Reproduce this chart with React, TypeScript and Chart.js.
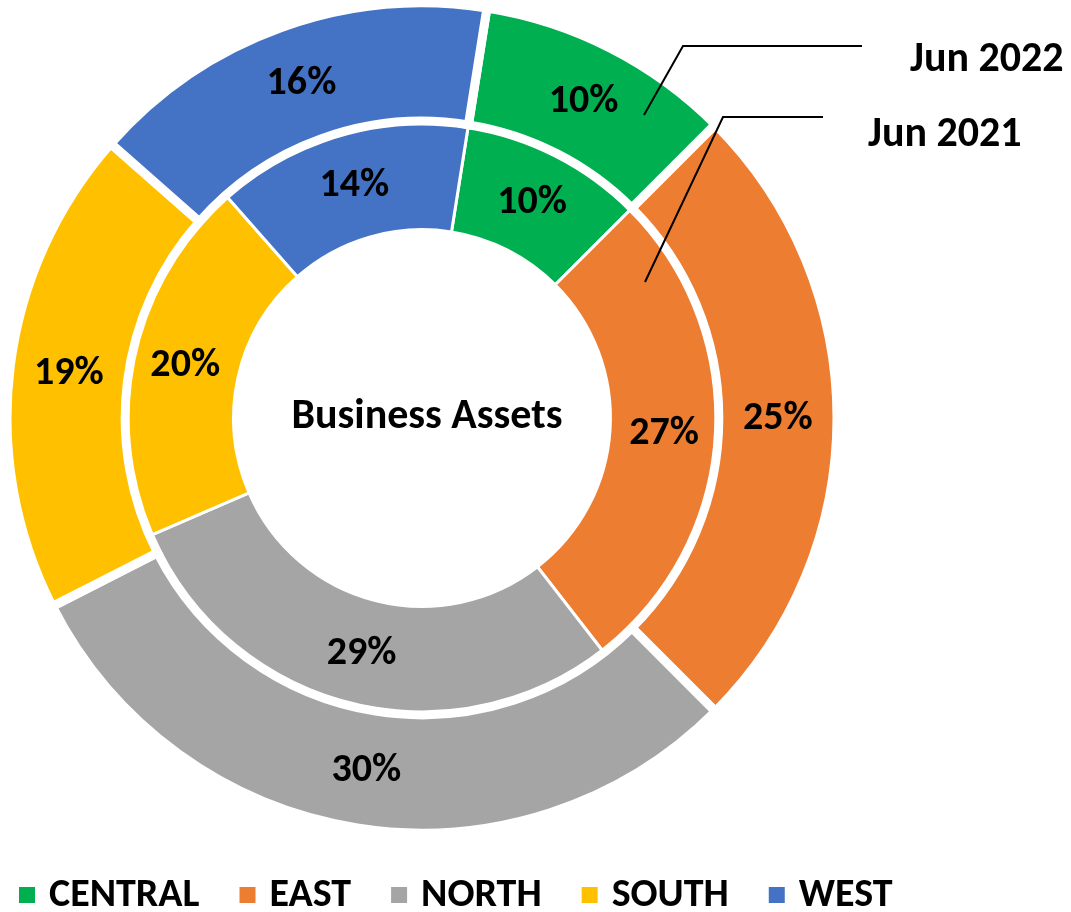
import React, { useEffect, useRef } from "react";
import { Chart, registerables } from "chart.js";

Chart.register(...registerables);

const regions = ["CENTRAL", "EAST", "NORTH", "SOUTH", "WEST"];
const colors = ["#00B050", "#ED7D31", "#A5A5A5", "#FFC000", "#4472C4"];
const periods = ["Jun 2022", "Jun 2021"];
const jun2022 = [10, 25, 30, 19, 16];
const jun2021 = [10, 27, 29, 20, 14];
const centerTitle = "Business Assets";

const FONT = "Carlito, Calibri, 'Open Sans', sans-serif";
const W = 1071;
const H = 912;

const overlayPlugin = {
  id: "overlay",
  afterDatasetsDraw(chart: any) {
    const ctx = chart.ctx as CanvasRenderingContext2D;
    const meta0 = chart.getDatasetMeta(0);
    const cx = meta0.data[0].x;
    const cy = meta0.data[0].y;
    ctx.save();
    ctx.fillStyle = "#000";
    ctx.textAlign = "center";
    ctx.textBaseline = "middle";
    ctx.font = `bold 40px ${FONT}`;
    chart.data.datasets.forEach((ds: any, di: number) => {
      const meta = chart.getDatasetMeta(di);
      const total = ds.data.reduce((a: number, b: number) => a + b, 0);
      meta.data.forEach((arc: any, i: number) => {
        const p = arc.getCenterPoint();
        ctx.fillText(Math.round((ds.data[i] / total) * 100) + "%", p.x, p.y + 1);
      });
    });
    // centre title
    ctx.font = `bold 42px ${FONT}`;
    ctx.fillText(centerTitle, cx + 5, cy - 1);

    // series name call-outs
    const callouts = [
      { s: [222, -303], c: [261, -372], e: [440, -372], t: [488, -347] },
      { s: [223, -136], c: [301, -301], e: [401, -301], t: [446, -272] },
    ];
    ctx.strokeStyle = "#000";
    ctx.lineWidth = 2;
    ctx.textAlign = "left";
    ctx.textBaseline = "alphabetic";
    callouts.forEach((co, i) => {
      ctx.beginPath();
      ctx.moveTo(cx + co.s[0], cy + co.s[1]);
      ctx.lineTo(cx + co.c[0], cy + co.c[1]);
      ctx.lineTo(cx + co.e[0], cy + co.e[1]);
      ctx.stroke();
      ctx.fillText(periods[i], cx + co.t[0], cy + co.t[1]);
    });

    // legend
    ctx.font = `bold 40px ${FONT}`;
    let x = 19;
    const boxY = 887;
    regions.forEach((r, i) => {
      ctx.fillStyle = colors[i];
      ctx.fillRect(x, boxY, 16, 16);
      ctx.fillStyle = "#000";
      ctx.fillText(r, x + 30, 906);
      x += 30 + ctx.measureText(r).width + 40;
    });
    ctx.restore();
  },
};

export default function App() {
  const ref = useRef<HTMLCanvasElement>(null);
  useEffect(() => {
    if (!ref.current) return;
    const chart = new Chart(ref.current, {
      type: "doughnut",
      data: {
        labels: regions,
        datasets: [
          {
            label: periods[0],
            data: jun2022,
            backgroundColor: colors,
            borderColor: "#ffffff",
            borderWidth: 9,
            borderJoinStyle: "miter",
            weight: 1.09,
          } as any,
          {
            label: periods[1],
            data: jun2021,
            backgroundColor: colors,
            borderColor: "#ffffff",
            borderWidth: 3,
            borderJoinStyle: "miter",
            weight: 1,
          } as any,
        ],
      },
      options: {
        responsive: false,
        animation: false,
        rotation: 9,
        cutout: "45.4%",
        radius: 415,
        layout: { padding: { left: 0, right: 227, top: 0, bottom: 76 } },
        plugins: {
          legend: { display: false },
          tooltip: { enabled: false },
          title: { display: false },
        },
      } as any,
      plugins: [overlayPlugin],
    });
    return () => chart.destroy();
  }, []);
  return (
    <div style={{ position: "absolute", left: 0, top: 0, width: W, height: H, background: "#fff" }}>
      <canvas ref={ref} width={W} height={H} style={{ width: W, height: H, display: "block" }} />
    </div>
  );
}
